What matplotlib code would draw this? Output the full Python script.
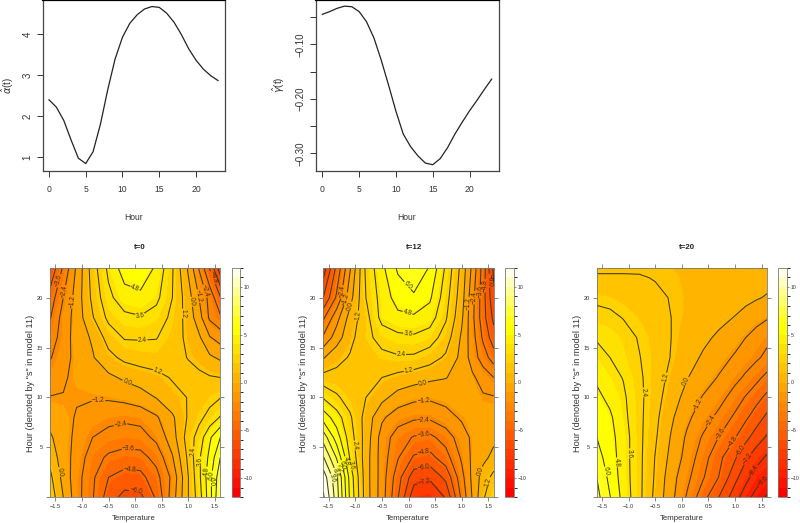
import numpy as np
import matplotlib
matplotlib.use('Agg')
import matplotlib.pyplot as plt
from matplotlib.colors import ListedColormap, BoundaryNorm
from matplotlib.cm import ScalarMappable

plt.rcParams['font.family'] = ['Liberation Sans', 'DejaVu Sans']
plt.rcParams['mathtext.fontset'] = 'dejavusans'
plt.rcParams['contour.negative_linestyle'] = 'solid'

# top curves
hours = list(range(24))
alpha_t = [2.4, 2.22, 1.9, 1.42, 0.97, 0.84, 1.13, 1.8, 2.65, 3.4, 3.93, 4.27,
           4.48, 4.62, 4.68, 4.66, 4.52, 4.3, 4.0, 3.65, 3.37, 3.15, 2.99, 2.87]
gamma_t = [-0.045, -0.040, -0.034, -0.030, -0.031, -0.040, -0.0585, -0.088,
           -0.129, -0.175, -0.223, -0.265, -0.288, -0.305, -0.318, -0.321,
           -0.31, -0.29, -0.265, -0.243, -0.222, -0.203, -0.183, -0.164]

# surfaces
temps = [-1.6, -1.35, -1.1, -0.8, -0.5, -0.2, 0.1, 0.4, 0.7, 1.0, 1.2, 1.4, 1.6]
s_hours = [0, 2, 4, 6, 8, 10, 12, 14, 16, 18, 20, 23]
s_hours_t20 = [0, 2, 4, 6, 8, 10, 12, 14, 16, 18, 20, 22, 23]

z_t0 = [
    [2.0, 0.0, -1.9, -3.5, -5.4, -6.4, -6.3, -4.6, -1.8, 1.2, 3.0, 5.5, 8.4],
    [1.5, -0.4, -1.9, -3.4, -4.8, -5.3, -5.2, -4.0, -2.1, 1.2, 3.3, 5.6, 8.0],
    [0.85, -0.7, -1.6, -3.1, -3.8, -4.1, -4.0, -3.2, -1.3, 1.5, 3.4, 5.1, 7.2],
    [0.2, -0.75, -1.45, -2.4, -2.85, -3.0, -2.9, -2.1, -0.55, 1.8, 2.9, 4.6, 6.0],
    [-0.5, -0.8, -1.3, -1.7, -2.0, -2.15, -2.0, -1.35, -0.2, 1.35, 2.1, 2.8, 3.7],
    [-1.15, -1.15, -1.1, -1.1, -1.05, -0.85, -0.5, 0.05, 0.8, 1.25, 1.6, 2.0, 2.35],
    [-1.85, -1.35, -0.9, -0.6, -0.25, 0.2, 0.55, 0.85, 1.3, 1.55, 1.45, 1.3, 1.2],
    [-2.5, -1.65, -0.85, -0.1, 0.85, 1.5, 1.75, 1.85, 1.6, 1.15, 0.8, 0.2, -0.2],
    [-3.0, -1.9, -0.6, 0.15, 1.7, 2.5, 2.5, 2.45, 1.8, 0.9, 0.2, -1.1, -1.7],
    [-3.7, -1.9, -0.7, 1.1, 2.7, 3.3, 3.5, 3.1, 2.1, 0.7, -0.7, -2.6, -3.4],
    [-4.3, -2.4, -0.7, 1.5, 3.3, 4.3, 4.5, 3.9, 2.4, 0.5, -1.2, -2.8, -4.7],
    [-5.9, -3.4, -1.0, 1.8, 3.9, 5.4, 5.7, 4.6, 2.5, -0.2, -2.5, -4.9, -8.0],
]
z_t12 = [
    [12.2, 9.0, 4.6, 0.6, -1.8, -4.7, -8.0, -8.3, -7.1, -3.3, -1.1, 1.0, 2.4],
    [11.5, 8.7, 4.4, 0.55, -1.75, -4.3, -6.7, -7.0, -5.7, -2.8, -0.9, 0.5, 1.6],
    [9.7, 7.1, 3.5, 0.55, -1.75, -3.5, -4.95, -5.2, -4.1, -2.2, -0.95, -0.3, 0.3],
    [7.9, 5.4, 3.0, 0.7, -1.7, -3.0, -3.7, -3.9, -3.1, -1.7, -1.0, -0.6, -0.25],
    [5.5, 4.2, 2.6, 0.75, -1.0, -1.85, -2.2, -2.2, -1.6, -1.05, -0.9, -0.85, -0.8],
    [3.5, 2.6, 1.85, 1.2, 0.35, -0.5, -0.9, -1.0, -0.85, -0.75, -0.85, -1.05, -1.1],
    [1.6, 1.6, 1.75, 1.75, 1.2, 0.85, 0.55, 0.25, 0.05, -0.5, -1.0, -1.7, -2.4],
    [-0.1, 0.8, 1.3, 1.75, 2.05, 2.25, 2.2, 1.75, 1.0, -0.35, -1.75, -3.0, -4.2],
    [-2.2, -0.6, 0.85, 2.0, 2.9, 3.3, 3.4, 3.0, 1.85, -0.2, -1.9, -3.8, -5.5],
    [-3.8, -1.65, 0.45, 1.95, 4.0, 4.5, 4.6, 4.2, 2.55, 0.2, -2.1, -4.3, -6.3],
    [-6.0, -3.4, -0.5, 2.4, 4.1, 5.3, 5.8, 5.0, 2.9, 0.5, -2.0, -4.3, -6.9],
    [-7.9, -4.5, -1.35, 2.65, 4.5, 6.2, 7.0, 5.9, 3.4, 0.8, -1.5, -4.1, -7.5],
]
z_t20 = [
    [7.6, 6.05, 4.4, 2.7, 0.9, -0.85, -2.55, -4.35, -6.05, -7.9, -9.1, -10.1, -11.0],
    [7.2, 5.65, 4.25, 2.7, 1.05, -0.7, -2.1, -3.5, -4.85, -6.85, -8.0, -9.0, -9.6],
    [6.5, 5.4, 4.2, 2.7, 1.15, -0.35, -1.65, -3.1, -4.5, -5.85, -7.0, -7.85, -8.6],
    [6.0, 5.2, 4.2, 2.7, 1.35, -0.1, -1.4, -2.55, -3.65, -4.75, -5.65, -6.6, -7.35],
    [5.6, 5.0, 3.95, 2.7, 1.5, 0.2, -0.95, -1.85, -2.75, -3.85, -4.6, -5.4, -6.3],
    [5.1, 4.5, 3.8, 2.7, 1.65, 0.6, -0.45, -1.3, -1.95, -2.95, -3.7, -4.4, -5.1],
    [4.6, 4.0, 3.55, 2.6, 1.75, 0.9, 0.05, -0.6, -1.3, -2.05, -2.6, -3.25, -3.95],
    [4.0, 3.6, 3.1, 2.45, 1.8, 1.15, 0.45, -0.15, -0.75, -1.35, -1.8, -2.2, -2.7],
    [3.5, 3.25, 2.9, 2.3, 1.75, 1.2, 0.7, 0.25, -0.2, -0.75, -1.2, -1.7, -2.1],
    [2.8, 2.7, 2.35, 1.95, 1.6, 1.2, 0.9, 0.6, 0.3, -0.05, -0.4, -0.75, -1.1],
    [2.15, 2.0, 1.8, 1.6, 1.4, 1.15, 0.95, 0.8, 0.6, 0.45, 0.3, 0.1, -0.1],
    [1.3, 1.3, 1.3, 1.28, 1.15, 1.05, 0.95, 0.9, 0.8, 0.7, 0.6, 0.5, 0.4],
    [1.05, 1.05, 1.05, 1.05, 1.05, 1.0, 1.0, 0.95, 0.95, 0.9, 0.9, 0.9, 0.9],
]

# where the contour labels sit
labels_t0 = [(0.01, 0.5), (-0.1, 3), (-0.12, 5.1), (-0.27, 7.2), (-0.69, 9.7), (-0.16, 11.4),
             (0.42, 12.6), (0.14, 15.6), (0.09, 18.2), (0, 21), (0.94, 18.4), (1.09, 19.6),
             (1.22, 20.2), (1.34, 20.7), (1.47, 22), (-1.2, 19.6), (-1.34, 20.6), (-1.44, 21.7),
             (-1.36, 2.6), (1.08, 4.6), (1.2, 3.6), (1.3, 2.6), (1.4, 2.2), (1.47, 1.6)]
labels_t12 = [(0, 21.3), (0, 18.9), (0, 16.7), (-0.14, 14.7), (0, 12.8), (0.28, 11.2), (0.28, 9.6),
              (0.28, 7.9), (0.28, 6.3), (0.28, 4.7), (0.28, 3.3), (0.28, 1.8), (-1, 5.2),
              (-1.09, 3.2), (-1.19, 3.6), (-1.26, 3.2), (-1.34, 2.9), (-1.4, 2.4), (-1.45, 1.9),
              (1.36, 2.6), (1.47, 1.6), (-0.94, 18.2), (-1.07, 19.1), (-1.19, 19.9), (-1.27, 20.6),
              (1.17, 19.4), (1.25, 20), (1.36, 20.6), (1.46, 21.2), (1.5, 21.7)]
labels_t20 = [(-1.41, 2.6), (-1.2, 3.5), (-0.97, 4.4), (-0.75, 10.5), (-0.31, 12), (0.09, 11.6),
              (0.34, 9.2), (0.56, 7.6), (0.74, 6.3), (0.94, 5.6), (1.09, 4.7), (1.22, 3.9),
              (1.34, 2.7), (1.47, 1.9)]

heat = ['#FF0000', '#FF0F00', '#FF1E00', '#FF2D00', '#FF3C00', '#FF4B00', '#FF5A00', '#FF6900',
        '#FF7800', '#FF8700', '#FF9600', '#FFA500', '#FFB400', '#FFC300', '#FFD200', '#FFE100',
        '#FFF000', '#FFFF00', '#FFFF15', '#FFFF40', '#FFFF6A', '#FFFF95', '#FFFFBF', '#FFFFEA']
fill_levels = np.arange(-12, 13)
line_levels = np.arange(-10, 11) * 1.2

W, H = 800, 523
dark = '#333333'
grey = '#555555'


def box(x0, x1, y0, y1):
    # pixel box -> figure fractions
    return [x0 / W, 1 - y1 / H, (x1 - x0) / W, (y1 - y0) / H]


def fmt_level(v):
    v = round(float(v), 1)
    return ('%.1f' % abs(v)) if v >= 0 else '\u2212%.1f' % abs(v)


fig = plt.figure(figsize=(8, 5.23), dpi=100)

# curve panels
ax1 = fig.add_axes(box(42.5, 225, 0, 170.7))
ax1.plot(hours, alpha_t, color='#222222', lw=0.9)
ax1.set_xlim(-0.88, 23.95)
ax1.set_ylim(0.665, 4.84)
ax1.set_yticks([1, 2, 3, 4])

ax2 = fig.add_axes(box(316, 499, 0, 170.7))
ax2.plot(hours, gamma_t, color='#222222', lw=0.9)
ax2.set_xlim(-0.86, 24.0)
ax2.set_ylim(-0.332, -0.0187)
ax2.set_yticks([-0.05, -0.10, -0.15, -0.20, -0.25, -0.30])
ax2.set_yticklabels(['', '\u22120.10', '', '\u22120.20', '', '\u22120.30'])

for ax in (ax1, ax2):
    ax.set_xticks([0, 5, 10, 15, 20])
    ax.tick_params(axis='x', length=4.2, width=0.7, color=dark, labelsize=6.2, labelcolor=dark, pad=6)
    ax.tick_params(axis='y', length=4.2, width=0.7, color=dark, labelsize=7, labelcolor=dark, pad=3,
                   labelrotation=90)
    for lab in ax.get_yticklabels():
        lab.set_va('center')
    for sp in ax.spines.values():
        sp.set_linewidth(0.9)
        sp.set_color('#444444')
    ax.spines['top'].set_linewidth(1.6)
    ax.spines['top'].set_color('black')

fig.text(133.5 / W, 1 - 217 / H, 'Hour', fontsize=6.2, color=dark, ha='center', va='center')
fig.text(407 / W, 1 - 217 / H, 'Hour', fontsize=6.2, color=dark, ha='center', va='center')
fig.text(8 / W, 1 - 85 / H, r'$\hat{\alpha}$(t)', fontsize=7, color=dark, rotation=90,
         ha='center', va='center')
fig.text(279 / W, 1 - 85 / H, r'$\hat{\gamma}$(t)', fontsize=7, color=dark, rotation=90,
         ha='center', va='center')

# contour panels
cmap = ListedColormap(heat)
cmap.set_over(heat[-1])
cmap.set_under(heat[0])
norm = BoundaryNorm(fill_levels, cmap.N)

panels = [
    ('t=0', s_hours, z_t0, labels_t0, 50, 220.3, 231.7, 240.3, 140, 134, 30.7),
    ('t=12', s_hours, z_t12, labels_t12, 323.3, 493.7, 505, 514, 414, 408, 304),
    ('t=20', s_hours_t20, z_t20, labels_t20, 596.7, 767, 778.3, 787.3, 686.7, 681.7, 577),
]

for title, rows, z, lab_pos, x0, x1, c0, c1, tx, lx, yx in panels:
    ax = fig.add_axes(box(x0, x1, 267.7, 497.3))
    Z = np.array(z)
    ax.contourf(temps, rows, Z, levels=fill_levels, cmap=cmap, norm=norm, extend='both')
    cs = ax.contour(temps, rows, Z, levels=line_levels, colors='#3c3a14', linewidths=0.75)
    ax.clabel(cs, manual=lab_pos, fmt=fmt_level, fontsize=4.7, inline=True, inline_spacing=0.5,
              colors='#33300f')
    ax.set_xlim(-1.6, 1.6)
    ax.set_ylim(0, 23)
    ax.set_xticks([-1.5, -1, -0.5, 0, 0.5, 1, 1.5])
    ax.set_xticklabels(['\u22121.5', '\u22121.0', '\u22120.5', '0.0', '0.5', '1.0', '1.5'])
    ax.set_yticks([0, 5, 10, 15, 20])
    ax.set_yticklabels(['', '5', '10', '15', '20'])
    ax.tick_params(axis='both', which='both', length=2.6, width=0.5, color=grey, top=True, right=True,
                   labelsize=4.1, labelcolor=dark, pad=2.5)
    for sp in ax.spines.values():
        sp.set_linewidth(0.6)
        sp.set_color('#777777')

    cax = fig.add_axes(box(c0, c1, 267.7, 497.3))
    cb = fig.colorbar(ScalarMappable(norm=norm, cmap=cmap), cax=cax, ticks=[-10, -5, 0, 5, 10],
                      spacing='proportional')
    cb.ax.set_yticklabels(['\u221210', '\u22125', '0', '5', '10'])
    cb.ax.tick_params(length=1.5, width=0.5, color=grey, labelsize=3.7, labelcolor=dark, pad=1.2)
    cb.outline.set_linewidth(0.6)
    cb.outline.set_edgecolor('#777777')

    fig.text(tx / W, 1 - 247.7 / H, title, fontsize=5.7, fontweight='bold', color='#222222',
             ha='center', va='center')
    fig.text(lx / W, 1 - 518 / H, 'Temperature', fontsize=5.6, color=dark, ha='center', va='center')
    fig.text(yx / W, 1 - 383 / H, 'Hour (denoted by "s" in model 11)', fontsize=6.6, color=dark,
             rotation=90, ha='center', va='center')

fig.savefig('out.png', dpi=100)
